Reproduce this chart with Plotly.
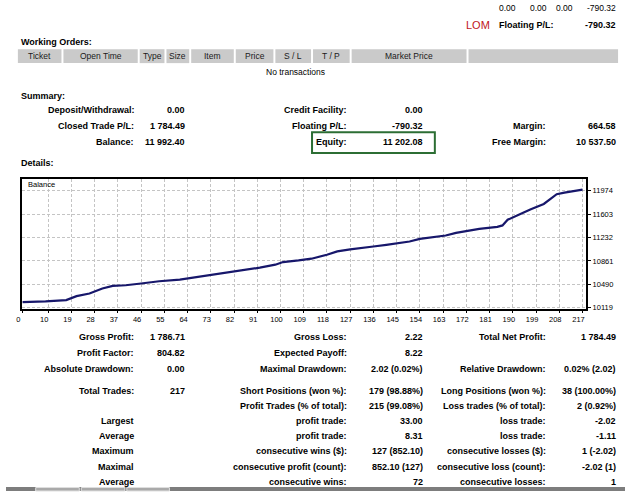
import plotly.graph_objects as go

# ---------------- data ----------------
trade_idx = [0, 5, 9, 17, 21, 26, 31, 35, 40, 46, 53, 61, 68, 74, 80, 86, 92, 98, 101,
             107, 112, 118, 122, 127, 132, 136, 141, 145, 150, 154, 159, 164, 168, 173,
             177, 184, 186, 188, 191, 194, 197, 199, 202, 205, 207, 210, 217]
balance = [10208, 10212, 10220, 10240, 10303, 10345, 10424, 10466, 10476, 10503, 10539,
           10566, 10608, 10644, 10676, 10713, 10755, 10802, 10844, 10870, 10897, 10960,
           11012, 11044, 11065, 11091, 11117, 11138, 11170, 11212, 11238, 11265, 11307,
           11343, 11370, 11401, 11425, 11515, 11575, 11625, 11680, 11710, 11765, 11860,
           11920, 11945, 11992.40]

x_ticks = [0, 10, 19, 28, 37, 46, 55, 64, 73, 82, 91, 100, 109, 118, 127, 136, 145, 154,
           163, 172, 181, 190, 199, 208, 217]
y_ticks = [10119, 10490, 10861, 11232, 11603, 11974]

top_values = ["0.00", "0.00", "0.00", "-790.32"]
lom_label = "LOM"
floating_label = "Floating P/L:"
floating_value = "-790.32"

orders_title = "Working Orders:"
order_headers = ["Ticket", "Open Time", "Type", "Size", "Item", "Price", "S / L", "T / P",
                 "Market Price", ""]
no_orders_text = "No transactions"

summary_title = "Summary:"
summary_col1_labels = ["Deposit/Withdrawal:", "Closed Trade P/L:", "Balance:"]
summary_col1_values = ["0.00", "1 784.49", "11 992.40"]
summary_col2_labels = ["Credit Facility:", "Floating P/L:", "Equity:"]
summary_col2_values = ["0.00", "-790.32", "11 202.08"]
summary_col3_labels = ["", "Margin:", "Free Margin:"]
summary_col3_values = ["", "664.58", "10 537.50"]

details_title = "Details:"
chart_label = "Balance"

stats_col1_labels = ["Gross Profit:", "Profit Factor:", "Absolute Drawdown:", "Total Trades:",
                     "", "Largest", "Average", "Maximum", "Maximal", "Average"]
stats_col1_values = ["1 786.71", "804.82", "0.00", "217", "", "", "", "", "", ""]
stats_col2_labels = ["Gross Loss:", "Expected Payoff:", "Maximal Drawdown:",
                     "Short Positions (won %):", "Profit Trades (% of total):",
                     "profit trade:", "profit trade:", "consecutive wins ($):",
                     "consecutive profit (count):", "consecutive wins:"]
stats_col2_values = ["2.22", "8.22", "2.02 (0.02%)", "179 (98.88%)", "215 (99.08%)",
                     "33.00", "8.31", "127 (852.10)", "852.10 (127)", "72"]
stats_col3_labels = ["Total Net Profit:", "", "Relative Drawdown:", "Long Positions (won %):",
                     "Loss trades (% of total):", "loss trade:", "loss trade:",
                     "consecutive losses ($):", "consecutive loss (count):",
                     "consecutive losses:"]
stats_col3_values = ["1 784.49", "", "0.02% (2.02)", "38 (100.00%)", "2 (0.92%)",
                     "-2.02", "-1.11", "1 (-2.02)", "-2.02 (1)", "1"]

# ---------------- layout helpers ----------------
W, H = 625, 494
FONT = "Liberation Sans, Arial, sans-serif"


def px(x):
    return x / W


def py(y):
    return 1 - y / H


annotations = []
shapes = []


def text(x, y, s, anchor="right", size=9, bold=True, color="#000000"):
    if not s:
        return
    annotations.append(dict(
        x=px(x), y=py(y), xref="paper", yref="paper", text=f"<b>{s}</b>" if bold else s,
        showarrow=False, xanchor=anchor, yanchor="middle",
        font=dict(family=FONT, size=size, color=color)))


def rect(x0, y0, x1, y1, fill=None, line=None, lw=0):
    shapes.append(dict(type="rect", xref="paper", yref="paper", x0=px(x0), x1=px(x1),
                       y0=py(y1), y1=py(y0), fillcolor=fill or "rgba(0,0,0,0)",
                       line=dict(color=line or "rgba(0,0,0,0)", width=lw), layer="below"))


# top line
for s, xr in zip(top_values, [517, 548, 575, 618]):
    text(xr, 8, s, bold=False, size=8.5)
text(491, 25, lom_label, anchor="right", size=11, bold=False, color="#c0161c")
text(496, 25, floating_label, anchor="left")
text(618, 25, floating_value)

# working orders
text(13, 42, orders_title, anchor="left")
cells = [(12, 56), (58, 133), (135, 160), (162, 185), (187, 230), (232, 270), (272, 308),
         (310, 347), (349, 465), (467, 618)]
for (a, b), s in zip(cells, order_headers):
    rect(a, 49.5, b, 63.5, fill="#cacaca")
    text((a + b) / 2, 56.5, s, anchor="center", bold=False, size=8.5, color="#1a1a1a")
text(292, 72, no_orders_text, anchor="center", bold=False, size=8.5)

# summary
text(13, 97, summary_title, anchor="left")
for i, yy in enumerate([111, 127, 143]):
    text(131.5, yy, summary_col1_labels[i])
    text(183, yy, summary_col1_values[i])
    text(346, yy, summary_col2_labels[i])
    text(423.5, yy, summary_col2_values[i])
    text(547, yy, summary_col3_labels[i])
    text(618, yy, summary_col3_values[i])
rect(309, 133, 433, 154, line="#2c6e34", lw=2)

# details
text(13, 164, details_title, anchor="left")
text(20, 186, chart_label, anchor="left", bold=False, size=7.5)

stat_rows = [339, 355, 371, 393, 408, 424, 439, 454, 470, 485]
for i, yy in enumerate(stat_rows):
    text(131.5, yy, stats_col1_labels[i])
    text(183, yy, stats_col1_values[i])
    text(346, yy, stats_col2_labels[i])
    text(423.5, yy, stats_col2_values[i])
    text(547, yy, stats_col3_labels[i])
    text(618, yy, stats_col3_values[i])

# bottom status bar with tabs
rect(0, 490, 625, 494, fill="#7d7d7d")
for a, b in [(30, 74), (76, 120), (122, 165)]:
    rect(a, 490.5, b, 494, fill="#a9a9a9", line="#e0e0e0", lw=1)

fig = go.Figure()
fig.add_trace(go.Scatter(x=trade_idx, y=balance, mode="lines",
                         line=dict(color="#17176b", width=2.2), hoverinfo="skip"))

fig.update_layout(
    width=W, height=H, margin=dict(l=0, r=0, t=0, b=0),
    paper_bgcolor="#ffffff", plot_bgcolor="#ffffff", showlegend=False,
    annotations=annotations, shapes=shapes,
    xaxis=dict(domain=[px(16.5), px(586)], range=[0, 218.5], tickvals=x_ticks,
               ticktext=[str(v) for v in x_ticks], showgrid=True, gridcolor="#c4c4c4",
               griddash="3px,2px", gridwidth=1, showline=True, linecolor="#000000",
               linewidth=1.5, mirror=True, zeroline=False, ticks="outside", ticklen=2,
               tickcolor="#000000", ticklabelshift=-4,
               tickfont=dict(family=FONT, size=7.5, color="#000000")),
    yaxis=dict(domain=[py(311), py(180)], range=[10097, 12163], tickvals=y_ticks,
               side="right", showgrid=True, gridcolor="#c4c4c4", griddash="3px,2px",
               gridwidth=1, showline=True, linecolor="#000000", linewidth=1.5,
               mirror=True, zeroline=False, ticks="outside", ticklen=3,
               tickcolor="#000000", tickformat="d",
               tickfont=dict(family=FONT, size=7.5, color="#000000")),
)

fig.write_html("out.html")
